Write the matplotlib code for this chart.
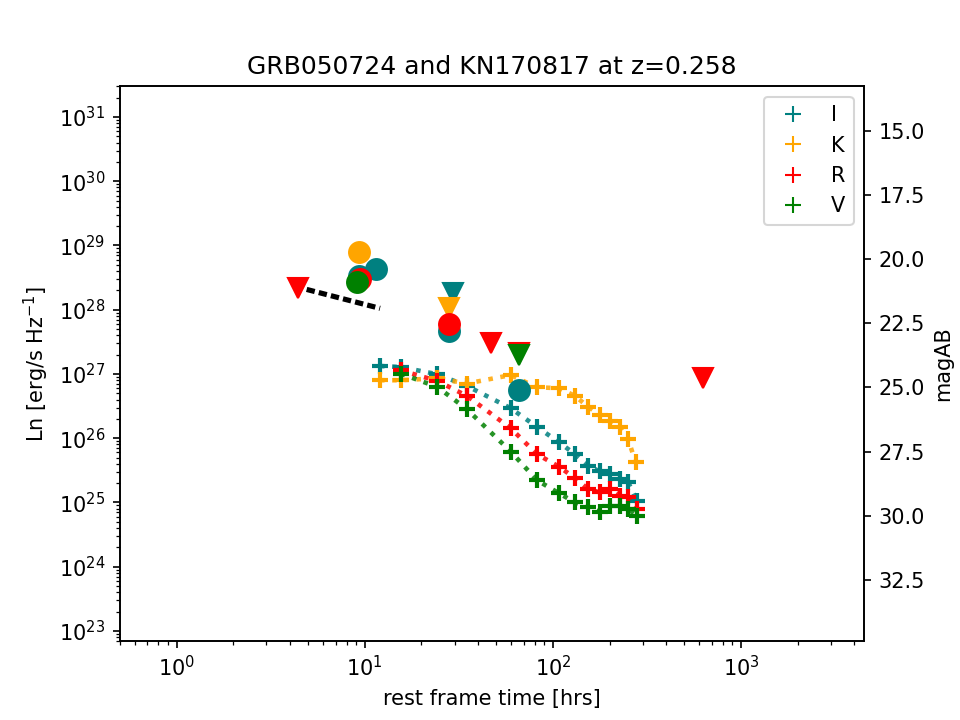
import numpy as np
import matplotlib
matplotlib.use("Agg")
import matplotlib.pyplot as plt
from matplotlib.lines import Line2D

# ---------------- data ----------------
bands = ["I", "K", "R", "V"]
colors = {"I": "teal", "K": "orange", "R": "red", "V": "green"}

# KN170817 shifted light curves (rest-frame hours, Ln)
kn_t = {
    "I": [12.04, 15.51, 24.28, 34.9, 59.6, 82.2, 108.0, 130.9, 154.0, 177.7, 200.9, 227.0, 251.3, 279.4],
    "K": [12.04, 15.51, 24.28, 34.9, 59.6, 82.2, 108.0, 130.9, 154.0, 177.7, 200.9, 227.0, 251.3, 275.0],
    "R": [15.51, 24.28, 34.9, 59.6, 82.2, 108.0, 130.9, 154.0, 177.7, 200.9, 227.0, 251.3, 279.4],
    "V": [15.51, 24.28, 34.9, 59.6, 82.2, 108.0, 130.9, 154.0, 177.7, 200.9, 227.0, 251.3, 279.4],
}
kn_L = {
    "I": [1.33e27, 1.28e27, 9.9e26, 6.5e26, 2.93e26, 1.50e26, 8.57e25, 5.64e25, 3.71e25, 3.03e25, 2.75e25, 2.30e25, 2.05e25, 1.06e25],
    "K": [7.98e26, 7.98e26, 8.57e26, 7.1e26, 9.6e26, 6.2e26, 6.0e26, 4.55e26, 3.07e26, 2.30e26, 1.82e26, 1.47e26, 9.6e25, 4.19e25],
    "R": [1.14e27, 7.78e26, 4.55e26, 1.43e26, 5.64e25, 3.58e25, 2.39e25, 1.61e25, 1.43e25, 1.61e25, 1.27e25, 1.22e25, 7.9e24],
    "V": [1.01e27, 6.28e26, 2.82e26, 6.2e25, 2.22e25, 1.38e25, 1.0e25, 8.36e24, 7.14e24, 8.85e24, 8.85e24, 7.87e24, 6.2e24],
}

# GRB050724 detections (circles) and upper limits (triangles)
det_t = {"I": [9.35, 11.47, 28.1, 66.2], "K": [9.35], "R": [9.43, 28.1], "V": [9.12]}
det_L = {"I": [3.3e28, 4.36e28, 4.67e27, 5.57e26], "K": [7.9e28], "R": [3.05e28, 5.9e27], "V": [2.74e28]}
ul_t = {"I": [29.5], "K": [28.1], "R": [4.42, 46.7, 66.2, 624.0], "V": [66.2]}
ul_L = {"I": [1.85e28], "K": [1.08e28], "R": [2.15e28, 3.08e27, 2.12e27, 8.5e26], "V": [1.95e27]}

# early afterglow power-law segment
pl_t = [4.91, 12.05]
pl_L = [2.07e28, 1.05e28]

xlim = (0.5, 4500)
ylim = (7e22, 3e31)
mag_const = 91.975  # magAB = const - 2.5 log10(Ln)

# ---------------- plot ----------------
fig, ax = plt.subplots(figsize=(6.4, 4.8), dpi=150)

for b in bands:
    c = colors[b]
    ax.plot(kn_t[b], kn_L[b], ls=":", lw=2.2, color=c, alpha=0.85)
    ax.plot(kn_t[b], kn_L[b], ls="none", marker="+", ms=8, mew=2.0, color=c)

ax.plot(pl_t, pl_L, color="black", lw=2.5, ls=(0, (1.6, 0.8)))

for b in bands:
    c = colors[b]
    ax.plot(det_t[b], det_L[b], ls="none", marker="o", ms=10, color=c)
    ax.plot(ul_t[b], ul_L[b], ls="none", marker="v", ms=10, color=c)

ax.set_xscale("log")
ax.set_yscale("log")
ax.set_xlim(*xlim)
ax.set_ylim(*ylim)
ax.set_xlabel("rest frame time [hrs]")
ax.set_ylabel("Ln [erg/s Hz$^{-1}$]")
ax.set_title("GRB050724 and KN170817 at z=0.258")

handles = [Line2D([], [], ls="none", marker="+", ms=8, color=colors[b], label=b) for b in bands]
ax.legend(handles=handles, loc="upper right")

ax2 = ax.twinx()
ax2.set_ylim(mag_const - 2.5 * np.log10(ylim[0]), mag_const - 2.5 * np.log10(ylim[1]))
ax2.set_ylabel("magAB")

fig.savefig("out.png", dpi=150)
